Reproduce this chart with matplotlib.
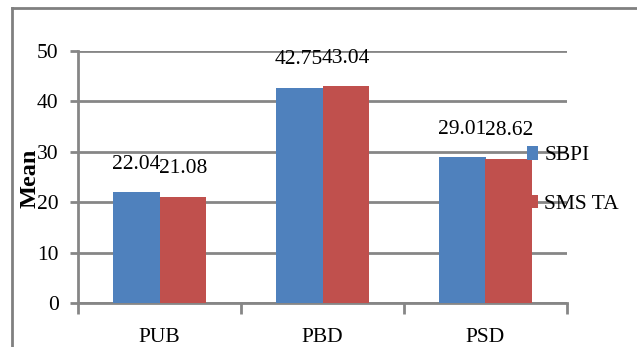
import matplotlib
matplotlib.use("Agg")
import matplotlib.pyplot as plt
import numpy as np

# ── data ──────────────────────────────────────────────────────────────────────
categories = ["PUB", "PBD", "PSD"]
sbpi = [22.04, 42.75, 29.01]
sms_ta = [21.08, 43.04, 28.62]
series_names = ["SBPI", "SMS TA"]

BLUE = "#4F81BD"
RED = "#C0504D"
GRID = "#868686"
FS = 15.5

plt.rcParams["font.family"] = ["Liberation Serif", "DejaVu Serif"]

W, H = 637, 347
fig = plt.figure(figsize=(W / 100, H / 100), dpi=100)

# outer chart border (left + top edges only are visible)
fig.add_artist(plt.Line2D([12 / W, 12 / W], [0, 1 - 8 / H], transform=fig.transFigure,
                          color="#808080", lw=2))
fig.add_artist(plt.Line2D([12 / W, 1], [1 - 8 / H, 1 - 8 / H], transform=fig.transFigure,
                          color="#808080", lw=2))

left, right = 78 / W, 567 / W
bottom, top = (H - 303) / H, (H - 51) / H
ax = fig.add_axes([left, bottom, right - left, top - bottom])

x = np.arange(len(categories))
bw = 0.286
b1 = ax.bar(x - bw / 2, sbpi, bw, color=BLUE, label=series_names[0], zorder=3)
b2 = ax.bar(x + bw / 2, sms_ta, bw, color=RED, label=series_names[1], zorder=3)

for bars, vals in ((b1, sbpi), (b2, sms_ta)):
    for r, v in zip(bars, vals):
        ax.annotate(f"{v:.2f}", (r.get_x() + r.get_width() / 2, v),
                    xytext=(0, 20), textcoords="offset points",
                    ha="center", va="center", fontsize=FS, zorder=4)

ax.set_xlim(-0.5, len(categories) - 0.5)
ax.set_ylim(0, 50)
ax.set_yticks(range(0, 51, 10))
ax.yaxis.grid(True, color=GRID, lw=2, zorder=0)
ax.set_axisbelow(True)

for s in ("top", "right"):
    ax.spines[s].set_visible(False)
for s in ("left", "bottom"):
    ax.spines[s].set_color(GRID)
    ax.spines[s].set_linewidth(2)

ax.set_xticks(x)
ax.set_xticklabels(categories)
ax.set_xticks(np.arange(len(categories) + 1) - 0.5, minor=True)
ax.tick_params(axis="x", which="major", length=0, pad=18, labelsize=FS)
ax.tick_params(axis="x", which="minor", length=8, width=2, color=GRID)
ax.tick_params(axis="y", length=6, width=2, color=GRID, labelsize=FS, pad=8)

# y label sits over the tick labels, as in the source
fig.text(30 / W, 1 - 178 / H, "Mean", rotation=90, ha="center", va="center",
         fontsize=17.5, fontweight="bold")

ax.legend(loc="center left", bbox_to_anchor=(527 / W, (H - 180) / H),
          bbox_transform=fig.transFigure, frameon=False, fontsize=FS,
          handlelength=0.5, handleheight=0.6, handletextpad=0.3,
          labelspacing=1.35, borderpad=0, borderaxespad=0)

fig.savefig("out.png", dpi=100)
